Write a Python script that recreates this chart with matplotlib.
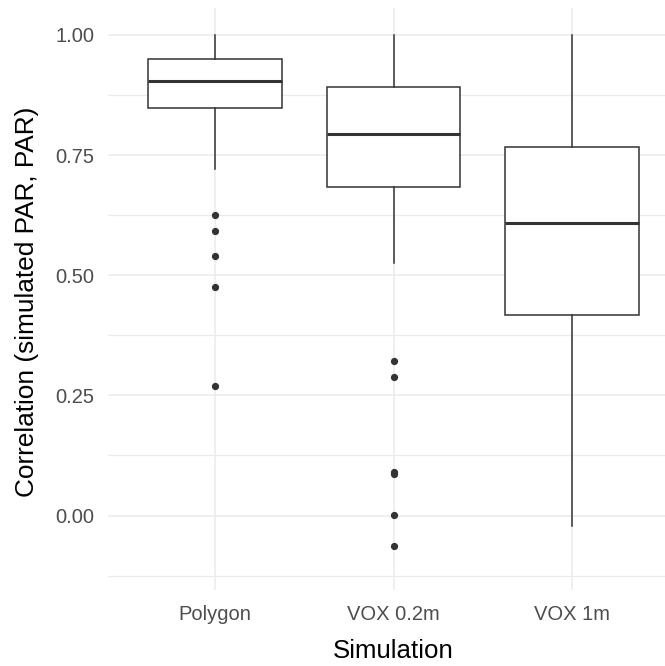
import matplotlib
matplotlib.use("Agg")
import matplotlib.pyplot as plt
from matplotlib.ticker import FixedLocator

plt.rcParams['font.family'] = ['Liberation Sans', 'DejaVu Sans']

# values
simulations = ["Polygon", "VOX 0.2m", "VOX 1m"]
whisker_low = [0.721, 0.525, -0.021]
q1 = [0.848, 0.684, 0.417]
median = [0.905, 0.793, 0.608]
q3 = [0.950, 0.892, 0.766]
whisker_high = [1.00, 1.00, 1.00]
outliers = [
    [0.625, 0.591, 0.541, 0.476, 0.269],
    [0.321, 0.289, 0.090, 0.086, 0.001, -0.064],
    [],
]
y_ticks = [0.00, 0.25, 0.50, 0.75, 1.00]
y_minor = [-0.125, 0.125, 0.375, 0.625, 0.875]

GRID = "#EBEBEB"
INK = "#333333"

fig = plt.figure(figsize=(6.65, 6.66), dpi=100)
ax = fig.add_axes([108 / 665, 76 / 666, (679 - 108) / 665, (590 - 8) / 666])

stats = []
for i, name in enumerate(simulations):
    stats.append(dict(label=name, whislo=whisker_low[i], q1=q1[i], med=median[i],
                      q3=q3[i], whishi=whisker_high[i], fliers=outliers[i]))

positions = list(range(1, len(simulations) + 1))
ax.bxp(
    stats, positions=positions, widths=0.75, showcaps=False, patch_artist=True,
    boxprops=dict(facecolor="white", edgecolor=INK, linewidth=1.1),
    medianprops=dict(color=INK, linewidth=2.2, solid_capstyle="butt"),
    whiskerprops=dict(color=INK, linewidth=1.1),
    flierprops=dict(marker="o", markersize=4.2, markerfacecolor=INK,
                    markeredgecolor=INK, linestyle="none"),
    zorder=3,
)

ax.set_xlim(0.4, 3.6)
ax.set_ylim(-0.155, 1.056)
ax.set_xticks(positions)
ax.set_xticklabels(simulations)
ax.set_yticks(y_ticks)
ax.set_yticklabels([f"{v:.2f}" for v in y_ticks])
ax.yaxis.set_minor_locator(FixedLocator(y_minor))

ax.grid(True, which="major", color=GRID, linewidth=1.1, zorder=0)
ax.grid(True, which="minor", axis="y", color=GRID, linewidth=0.9, zorder=0)
ax.set_axisbelow(True)
for s in ax.spines.values():
    s.set_visible(False)
ax.tick_params(axis="both", which="both", length=0, labelsize=14.5,
               labelcolor="#4D4D4D")
ax.tick_params(axis="x", pad=11)
ax.tick_params(axis="y", pad=10)

fig.text(393.5 / 665, 1 - 651 / 666, "Simulation", ha="center", va="center",
         fontsize=18.6, color="black")
fig.text(27 / 665, 1 - 302 / 666, "Correlation (simulated PAR, PAR)",
         ha="center", va="center", rotation=90, fontsize=18.9, color="black")

fig.savefig("out.png", dpi=100)
